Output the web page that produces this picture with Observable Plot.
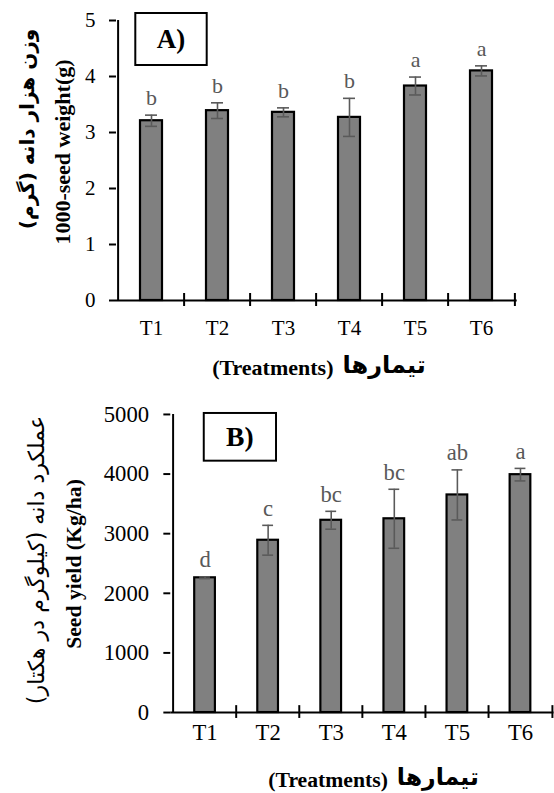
<!DOCTYPE html>
<html><head><meta charset="utf-8">
<script src="https://cdn.jsdelivr.net/npm/d3@7"></script>
<script src="https://cdn.jsdelivr.net/npm/@observablehq/plot@0.6"></script>
<style>
html,body{margin:0;padding:0;background:#fff;overflow:hidden;}
#wrap{position:relative;width:554px;height:793px;overflow:hidden;}
#a,#b{position:absolute;left:0;}
#a{top:0px;} #b{top:390px;}
</style></head><body>
<div id="wrap"><div id="a"></div><div id="b"></div></div>
<script>
// ---- data ----
const treatments = ["T1","T2","T3","T4","T5","T6"];

const weightMean    = [3.21, 3.39, 3.36, 3.27, 3.83, 4.10];
const weightSE      = [0.10, 0.14, 0.08, 0.34, 0.16, 0.09];
const weightLetters = ["b","b","b","b","a","a"];
const weightTicks   = [0,1,2,3,4,5];

const yieldMean    = [2260, 2890, 3225, 3250, 3650, 3990];
const yieldSE      = [15, 250, 150, 495, 420, 105];
const yieldLetters = ["d","c","bc","bc","ab","a"];
const yieldTicks   = [0,1000,2000,3000,4000,5000];

const xTitleEn = "(Treatments)";
const xTitleFa = "تیمارها";
const weightTitleFa = "وزن هزار دانه (گرم)";
const weightTitleEn = "1000-seed weight(g)";
const yieldTitleFa = "عملکرد دانه (کیلوگرم در هکتار)";
const yieldTitleEn = "Seed yield (Kg/ha)";

const SERIF = "'Liberation Serif','Times New Roman',serif";
const ARABIC = "'DejaVu Sans',sans-serif";

function panel(c) {
  const rows = treatments.map((t, i) => ({t, m: c.mean[i], se: c.se[i], l: c.letters[i]}));
  const step = (c.width - c.marginLeft - c.marginRight) / treatments.length;
  const errColor = "#5a5a5a";
  const boxMark = (index, scales, values, dims) => {
    const g = d3.create("svg:g");
    g.append("rect")
      .attr("x", c.box[0]).attr("y", c.box[1])
      .attr("width", c.box[2] - c.box[0]).attr("height", c.box[3] - c.box[1])
      .attr("fill", "white").attr("stroke", "black").attr("stroke-width", 2);
    g.append("text")
      .attr("x", (c.box[0] + c.box[2]) / 2).attr("y", (c.box[1] + c.box[3]) / 2)
      .attr("dy", "0.35em").attr("text-anchor", "middle")
      .attr("font-family", SERIF).attr("font-weight", "bold").attr("font-size", c.boxFont)
      .text(c.boxLabel);
    return g.node();
  };
  const at = (p) => ({frameAnchor: "top-left", dx: p[0] - c.marginLeft, dy: p[1] - c.marginTop});
  return Plot.plot({
    width: c.width, height: c.height,
    marginLeft: c.marginLeft, marginRight: c.marginRight,
    marginTop: c.marginTop, marginBottom: c.marginBottom,
    style: {fontFamily: SERIF, background: "white", overflow: "visible", color: "black"},
    x: {domain: treatments, paddingInner: c.padIn, paddingOuter: c.padIn / 2, label: null},
    y: {domain: [c.ticks[0], c.ticks[c.ticks.length - 1]], label: null},
    marks: [
      Plot.barY(rows, {x: "t", y: "m", fill: "#808080", stroke: "black", strokeWidth: 2.2}),
      Plot.ruleX(rows, {x: "t", y1: d => d.m - d.se, y2: d => d.m + d.se, stroke: errColor, strokeWidth: 1.6}),
      Plot.tickY(rows, {x: "t", y: d => d.m + d.se, insetLeft: 5, insetRight: 5, stroke: errColor, strokeWidth: 1.6}),
      Plot.tickY(rows, {x: "t", y: d => d.m - d.se, insetLeft: 5, insetRight: 5, stroke: errColor, strokeWidth: 1.6}),
      Plot.text(rows, {x: "t", y: d => d.m + d.se, text: "l", dy: -17, fontSize: c.letterFont, fill: "#595959", lineAnchor: "middle", fontFamily: SERIF}),
      // axes
      Plot.ruleY([c.ticks[0]], {stroke: "black", strokeWidth: 2}),
      Plot.ruleX([treatments[0]], {dx: -step / 2, y1: c.ticks[0], y2: c.ticks[c.ticks.length - 1], stroke: "black", strokeWidth: 2}),
      Plot.ruleX(treatments.slice(1), {dx: -step / 2, y1: c.ticks[0], y2: c.ticks[0], insetTop: 6, insetBottom: 7, stroke: "black", strokeWidth: 2}),
      Plot.ruleX([treatments[treatments.length - 1]], {dx: step / 2, y1: c.ticks[0], y2: c.ticks[0], insetTop: 6, insetBottom: 7, stroke: "black", strokeWidth: 2}),
      Plot.axisY({ticks: c.ticks, tickSize: 7, tickPadding: c.yPad, fontSize: c.tickFont, tickFormat: d => String(d), strokeWidth: 2, label: null, fontFamily: SERIF}),
      Plot.axisX({tickSize: 0, tickPadding: c.xPad, fontSize: c.tickFont, label: null, fontFamily: SERIF}),
      // titles
      Plot.text([c.titleFa], {text: d => d, ...at(c.faPos),
        rotate: -90, textAnchor: "middle", lineAnchor: "middle", fontSize: c.faFont, fontWeight: c.faWeight, fontFamily: ARABIC}),
      Plot.text([c.titleEn], {text: d => d, ...at(c.enPos),
        rotate: -90, textAnchor: "middle", lineAnchor: "middle", fontSize: c.enFont, fontWeight: "bold", fontFamily: SERIF}),
      Plot.text([xTitleEn], {text: d => d, ...at(c.xtEnPos),
        textAnchor: "end", lineAnchor: "middle", fontSize: 22, fontWeight: "bold", fontFamily: SERIF}),
      Plot.text([xTitleFa], {text: d => d, ...at(c.xtFaPos),
        textAnchor: "start", lineAnchor: "middle", fontSize: 24, fontWeight: "bold", fontFamily: ARABIC}),
      boxMark
    ]
  });
}

document.getElementById("a").append(panel({
  mean: weightMean, se: weightSE, letters: weightLetters, ticks: weightTicks,
  width: 554, height: 390, marginLeft: 116, marginRight: 37.3, marginTop: 20, marginBottom: 90,
  padIn: 0.67, tickFont: 21, letterFont: 22, yPad: 14, xPad: 20,
  titleFa: weightTitleFa, titleEn: weightTitleEn, faFont: 20, faWeight: "bold", enFont: 22,
  faPos: [27, 128.5], enPos: [62, 151.5], xtEnPos: [333, 367], xtFaPos: [342, 365],
  box: [135.3, 13, 206.7, 65], boxLabel: "A)", boxFont: 27
}));

document.getElementById("b").append(panel({
  mean: yieldMean, se: yieldSE, letters: yieldLetters, ticks: yieldTicks,
  width: 562, height: 403, marginLeft: 172.7, marginRight: 0.5, marginTop: 24.3, marginBottom: 76.3,
  padIn: 0.676, tickFont: 23, letterFont: 23, yPad: 15, xPad: 12,
  titleFa: yieldTitleFa, titleEn: yieldTitleEn, faFont: 22.5, faWeight: "normal", enFont: 22,
  faPos: [37.1, 172], enPos: [74.2, 176], xtEnPos: [393, 395], xtFaPos: [402, 393],
  box: [206.7, 23.3, 280, 71.7], boxLabel: "B)", boxFont: 28
}));
</script>
</body></html>
